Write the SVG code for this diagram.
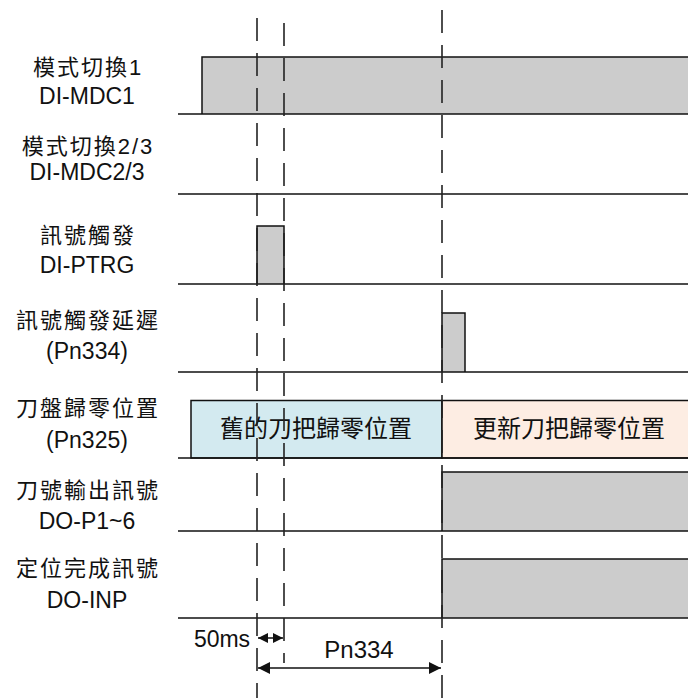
<svg xmlns="http://www.w3.org/2000/svg" width="688" height="698" viewBox="0 0 688 698">
<style>
text{font-family:"Liberation Sans","Noto Sans CJK TC",sans-serif;fill:#111;text-anchor:middle}
.cjk{font-size:22px;letter-spacing:2px}
.lat{font-size:23px}
.box{font-size:24px}
.sig{fill:#cccccc;stroke:#111;stroke-width:1.5}
.base{stroke:#111;stroke-width:1.5;fill:none}
.dash{stroke:#222;stroke-width:1.6;stroke-dasharray:23 12;fill:none}
.arr{stroke:#111;stroke-width:1.5;fill:none}
</style>
<defs>
<marker id="ah" viewBox="0 0 10 10" refX="10" refY="5" markerWidth="10" markerHeight="10" markerUnits="userSpaceOnUse" orient="auto-start-reverse"><path d="M0,0L10,5L0,10z" fill="#111"/></marker>
<marker id="ahl" viewBox="0 0 10 10" refX="10" refY="5" markerWidth="13" markerHeight="12" markerUnits="userSpaceOnUse" orient="auto-start-reverse"><path d="M0,0L10,5L0,10z" fill="#111"/></marker>
</defs>

<g id="sig-mdc1">
<text class="cjk" x="88" y="75">模式切換1</text>
<text class="lat" x="87" y="104">DI-MDC1</text>
<path class="sig" d="M202,114V57H689V114"/>
<path class="base" d="M178,114H688"/>
</g>

<g id="sig-mdc23">
<text class="cjk" x="88" y="154">模式切換2/3</text>
<text class="lat" x="87" y="180">DI-MDC2/3</text>
<path class="base" d="M178,194H688"/>
</g>

<g id="sig-ptrg">
<text class="cjk" x="88" y="243">訊號觸發</text>
<text class="lat" x="87" y="273">DI-PTRG</text>
<path class="sig" d="M257,284V226H284V284"/>
<path class="base" d="M178,284H688"/>
</g>

<g id="sig-delay">
<text class="cjk" x="88" y="328">訊號觸發延遲</text>
<text class="lat" x="87" y="359">(Pn334)</text>
<path class="sig" d="M442,372V313H465V372"/>
<path class="base" d="M178,372H688"/>
</g>

<g id="sig-home">
<text class="cjk" x="88" y="416">刀盤歸零位置</text>
<text class="lat" x="87" y="448">(Pn325)</text>
<rect x="191" y="400.5" width="251" height="57.5" fill="#d3eaf0" stroke="#111" stroke-width="1.5"/>
<rect x="442" y="400.5" width="248" height="57.5" fill="#fdede3" stroke="#111" stroke-width="1.5"/>
<text class="box" x="316" y="437">舊的刀把歸零位置</text>
<text class="box" x="569" y="437">更新刀把歸零位置</text>
<path class="base" d="M178,458H688"/>
</g>

<g id="sig-p16">
<text class="cjk" x="88" y="498">刀號輸出訊號</text>
<text class="lat" x="87" y="529">DO-P1~6</text>
<path class="sig" d="M442,531V472H689V531"/>
<path class="base" d="M178,531H688"/>
</g>

<g id="sig-inp">
<text class="cjk" x="88" y="576">定位完成訊號</text>
<text class="lat" x="87" y="608">DO-INP</text>
<path class="sig" d="M442,618V559H689V618"/>
<path class="base" d="M178,618H688"/>
</g>

<g id="connectors">
<path class="dash" d="M257,18V698"/>
<path class="dash" d="M284,23V663"/>
<path class="dash" d="M442,10V698"/>
<path class="arr" d="M258,638H283" marker-start="url(#ah)" marker-end="url(#ah)"/>
<path class="arr" d="M258,668H441" marker-start="url(#ahl)" marker-end="url(#ahl)"/>
<text x="222" y="647" style="font-size:23px">50ms</text>
<text x="359" y="658" style="font-size:24px">Pn334</text>
</g>
</svg>
